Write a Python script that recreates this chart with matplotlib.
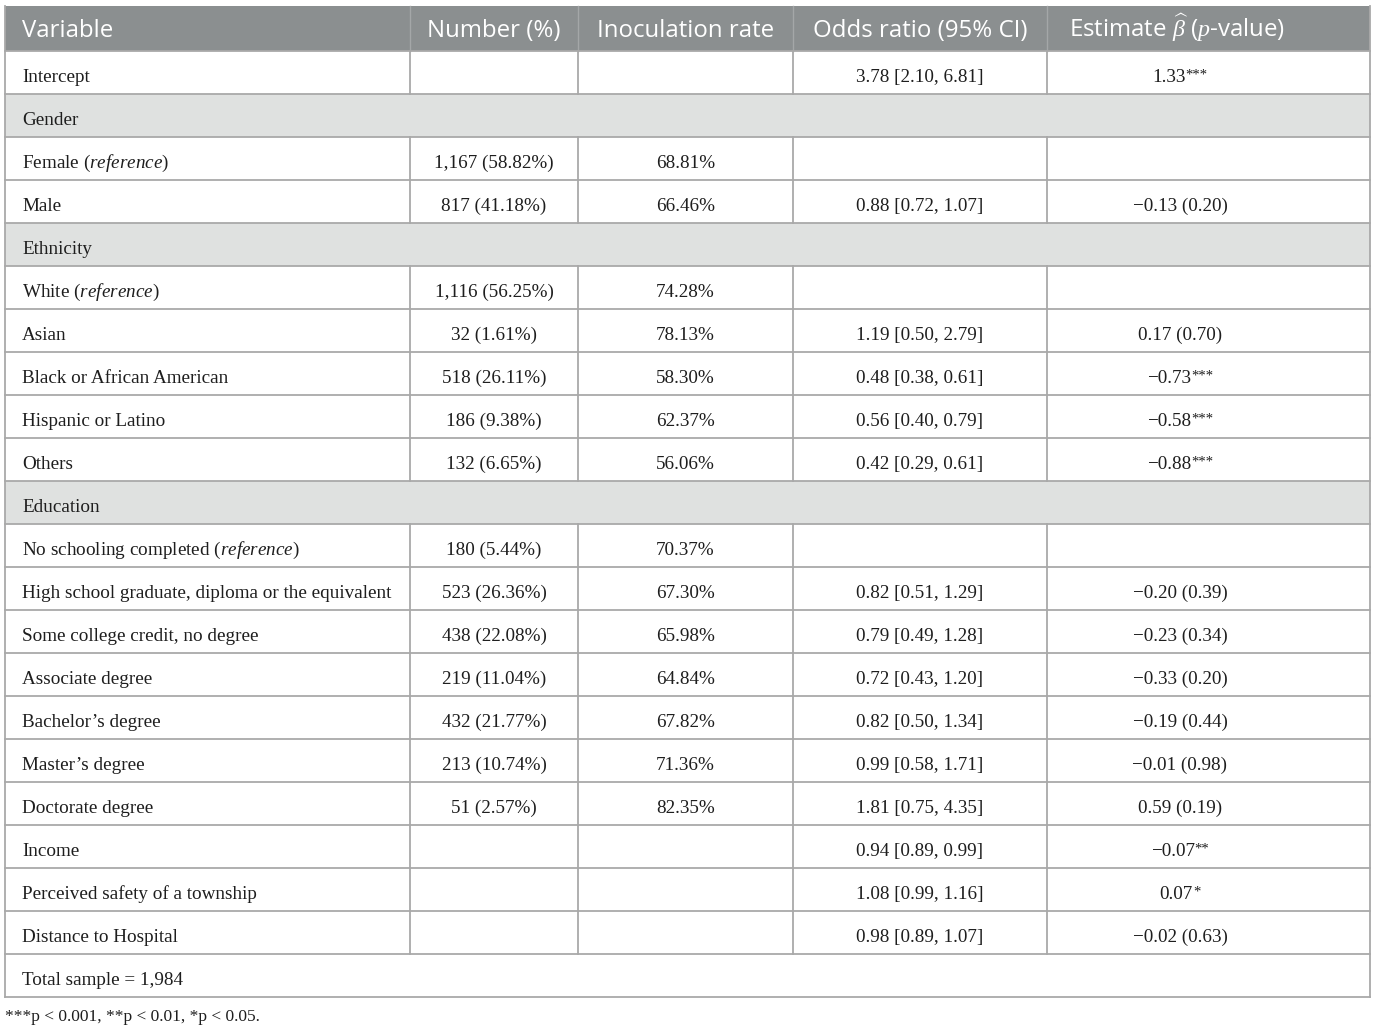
import matplotlib
matplotlib.use("Agg")
import matplotlib.pyplot as plt

plt.rcParams['mathtext.fontset'] = 'custom'
plt.rcParams['mathtext.rm'] = 'Liberation Serif'
plt.rcParams['mathtext.it'] = 'Liberation Serif:italic'
plt.rcParams['mathtext.bf'] = 'Liberation Serif:bold'

# table content
headers = ["Variable", "Number (%)", "Inoculation rate", "Odds ratio (95% CI)",
           "Estimate $\\widehat{\\beta}$ ($p$-value)"]

variables = ["Intercept", "Gender", "Female ($\\mathit{reference}$)", "Male",
             "Ethnicity", "White ($\\mathit{reference}$)", "Asian",
             "Black or African American", "Hispanic or Latino", "Others",
             "Education", "No schooling completed ($\\mathit{reference}$)",
             "High school graduate, diploma or the equivalent",
             "Some college credit, no degree", "Associate degree",
             "Bachelor\u2019s degree", "Master\u2019s degree", "Doctorate degree",
             "Income", "Perceived safety of a township", "Distance to Hospital",
             "Total sample = 1,984"]
sections = ["Gender", "Ethnicity", "Education"]
spanning = ["Total sample = 1,984"]

numbers = ["", "", "1,167 (58.82%)", "817 (41.18%)", "", "1,116 (56.25%)",
           "32 (1.61%)", "518 (26.11%)", "186 (9.38%)", "132 (6.65%)", "",
           "180 (5.44%)", "523 (26.36%)", "438 (22.08%)", "219 (11.04%)",
           "432 (21.77%)", "213 (10.74%)", "51 (2.57%)", "", "", "", ""]
rates = ["", "", "68.81%", "66.46%", "", "74.28%", "78.13%", "58.30%", "62.37%",
         "56.06%", "", "70.37%", "67.30%", "65.98%", "64.84%", "67.82%", "71.36%",
         "82.35%", "", "", "", ""]
odds = ["3.78 [2.10, 6.81]", "", "", "0.88 [0.72, 1.07]", "", "",
        "1.19 [0.50, 2.79]", "0.48 [0.38, 0.61]", "0.56 [0.40, 0.79]",
        "0.42 [0.29, 0.61]", "", "", "0.82 [0.51, 1.29]", "0.79 [0.49, 1.28]",
        "0.72 [0.43, 1.20]", "0.82 [0.50, 1.34]", "0.99 [0.58, 1.71]",
        "1.81 [0.75, 4.35]", "0.94 [0.89, 0.99]", "1.08 [0.99, 1.16]",
        "0.98 [0.89, 1.07]", ""]
estimates = ["1.33", "", "", "\u22120.13 (0.20)", "", "", "0.17 (0.70)",
             "\u22120.73", "\u22120.58", "\u22120.88", "", "", "\u22120.20 (0.39)",
             "\u22120.23 (0.34)", "\u22120.33 (0.20)", "\u22120.19 (0.44)",
             "\u22120.01 (0.98)", "0.59 (0.19)", "\u22120.07", "0.07", "\u22120.02 (0.63)", ""]
stars = ["***", "", "", "", "", "", "", "***", "***", "***", "", "", "", "", "",
         "", "", "", "**", "*", "", ""]
footnote = "***p < 0.001, **p < 0.01, *p < 0.05."

# layout (pixels)
W, H = 1375, 1030
col_edges = [5, 410, 578, 793, 1047, 1370]
col_centers = [None, 494, 685.5, 920, 1180]
top = 6
head_h = 45
row_h = 43
header_col = "#8b8f90"
section_col = "#dfe1e0"
line_col = "#a9a9a9"
serif = "Liberation Serif"
sans = "Open Sans"
body_fs = 13.8
txt_col = "#1e1e1e"

fig = plt.figure(figsize=(W / 100, H / 100), dpi=100)
ax = fig.add_axes([0, 0, 1, 1])
ax.set_xlim(0, W)
ax.set_ylim(H, 0)
ax.axis("off")
r = fig.canvas.get_renderer()

left, right = col_edges[0], col_edges[-1]

# header
ax.add_patch(plt.Rectangle((left, top), right - left, head_h, color=header_col, lw=0))
hy = top + 31
for j, h in enumerate(headers):
    if j == 0:
        ax.text(22, hy, h, ha="left", va="baseline", color="white", fontsize=17.3,
                family=sans)
    else:
        cx = (col_edges[j] + col_edges[j + 1]) / 2 if j < 4 else col_edges[j] + 130
        ax.text(cx, hy, h, ha="center", va="baseline", color="white", fontsize=17.3,
                family=sans)
for x in col_edges[1:-1]:
    ax.plot([x, x], [top, top + head_h], color="#a4a7a8", lw=1)

# body rows
body_top = top + head_h
for i, var in enumerate(variables):
    y0 = body_top + row_h * i
    yb = y0 + 31
    if var in sections:
        ax.add_patch(plt.Rectangle((left, y0), right - left, row_h,
                                   color=section_col, lw=0))
    ax.plot([left, right], [y0, y0], color=line_col, lw=1.3)
    if var not in sections and var not in spanning:
        for x in col_edges[1:-1]:
            ax.plot([x, x], [y0, y0 + row_h], color=line_col, lw=1.3)
    ax.text(22, yb, var, ha="left", va="baseline", fontsize=body_fs, family=serif,
            color=txt_col)
    vals = [numbers[i], rates[i], odds[i]]
    for j, v in enumerate(vals):
        if v:
            ax.text(col_centers[j + 1], yb, v, ha="center", va="baseline",
                    fontsize=body_fs, family=serif, color=txt_col)
    if estimates[i]:
        t = ax.text(col_centers[4], yb, estimates[i], ha="center", va="baseline",
                    fontsize=body_fs, family=serif, color=txt_col)
        if stars[i]:
            s = ax.annotate(stars[i], xy=(1, 1.05), xycoords=t, ha="left", va="top",
                            fontsize=10.5, family=serif, color=txt_col)
            w = s.get_window_extent(r).width
            t.set_x(col_centers[4] - w / 2)

bottom = body_top + row_h * len(variables)
ax.plot([left, right], [bottom, bottom], color=line_col, lw=1.3)
ax.plot([left, left], [top, bottom], color=line_col, lw=1.3)
ax.plot([right, right], [top, bottom], color=line_col, lw=1.3)

ax.text(5, 1021, footnote, ha="left", va="baseline", fontsize=12.5, family=serif,
        color=txt_col)

fig.savefig("out.png", dpi=100)
